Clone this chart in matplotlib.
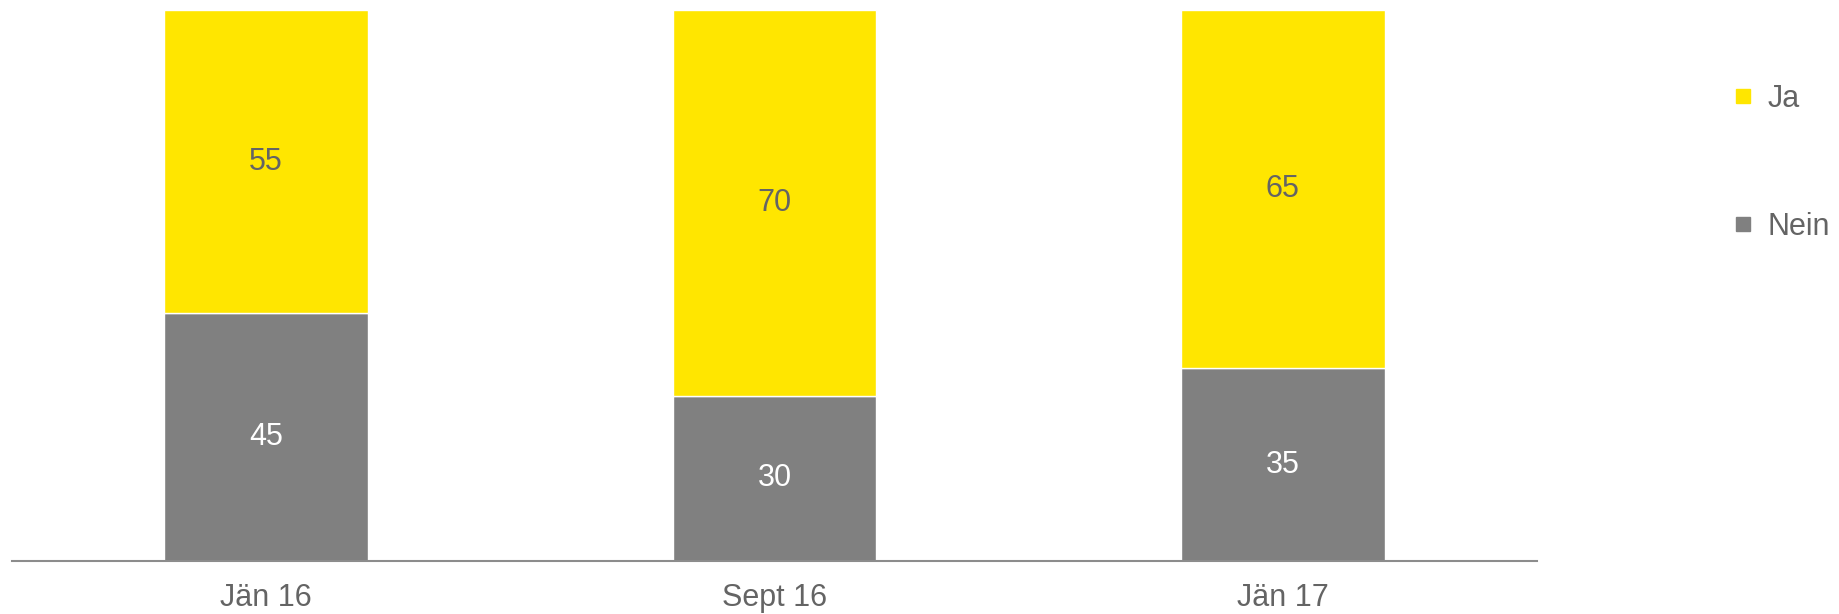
import matplotlib
matplotlib.use("Agg")
import matplotlib.pyplot as plt
from matplotlib.lines import Line2D
import numpy as np

plt.rcParams['font.family'] = ['Liberation Sans', 'DejaVu Sans']

categories = ['Jän 16', 'Sept 16', 'Jän 17']
nein = [45, 30, 35]
ja = [55, 70, 65]

yellow = '#FFE600'
grey = '#808080'
text_grey = '#646464'

fig = plt.figure(figsize=(18.4, 6.14), dpi=100)
ax = fig.add_axes([12 / 1840, 53 / 614, 1525 / 1840, 551 / 614])

x = np.arange(len(categories))
b1 = ax.bar(x, nein, width=0.4, color=grey, edgecolor='white', linewidth=1)
b2 = ax.bar(x, ja, width=0.4, bottom=nein, color=yellow, edgecolor='white', linewidth=1)

for xi, n, j in zip(x, nein, ja):
    ax.text(xi, n / 2, str(n), ha='center', va='center', fontsize=22, color='white')
    ax.text(xi, n + j / 2, str(j), ha='center', va='center', fontsize=22, color=text_grey)

ax.set_xlim(-0.5, 2.5)
ax.set_ylim(0, 100)
ax.set_xticks(x)
ax.set_xticklabels(categories, fontsize=22, color=text_grey)
ax.tick_params(axis='x', length=0, pad=16)
ax.set_yticks([])
for s in ['top', 'right', 'left']:
    ax.spines[s].set_visible(False)
ax.spines['bottom'].set_color('#8c8c8c')
ax.spines['bottom'].set_linewidth(1.5)

handles = [Line2D([], [], marker='s', linestyle='none', markersize=10, color=yellow),
           Line2D([], [], marker='s', linestyle='none', markersize=10, color=grey)]
fig.legend(handles, ['Ja', 'Nein'], loc='upper left', bbox_to_anchor=(1731 / 1840, 1 - 84 / 614),
           frameon=False, fontsize=22, labelcolor=text_grey, handlelength=0.8,
           handletextpad=0.4, labelspacing=3.2, borderpad=0, borderaxespad=0)

fig.savefig('out.png', dpi=100)
